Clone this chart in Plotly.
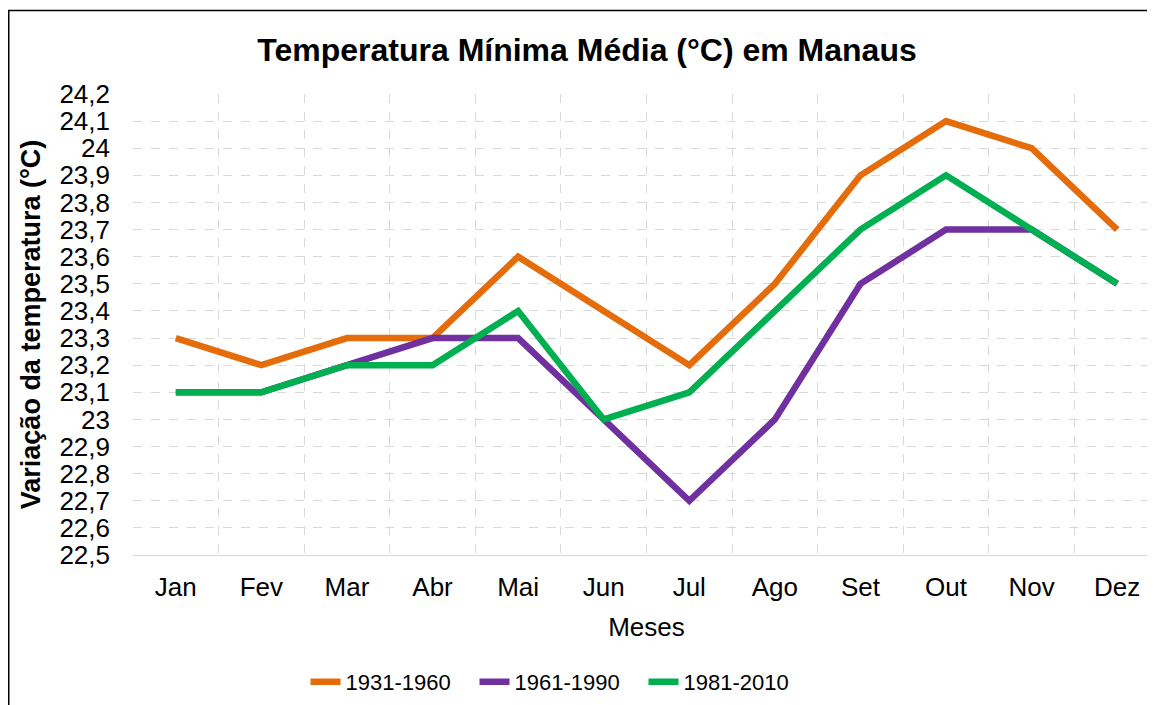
import plotly.graph_objects as go

months = ["Jan", "Fev", "Mar", "Abr", "Mai", "Jun", "Jul", "Ago", "Set", "Out", "Nov", "Dez"]
s1931_1960 = [23.3, 23.2, 23.3, 23.3, 23.6, 23.4, 23.2, 23.5, 23.9, 24.1, 24.0, 23.7]
s1961_1990 = [23.1, 23.1, 23.2, 23.3, 23.3, 23.0, 22.7, 23.0, 23.5, 23.7, 23.7, 23.5]
s1981_2010 = [23.1, 23.1, 23.2, 23.2, 23.4, 23.0, 23.1, 23.4, 23.7, 23.9, 23.7, 23.5]
series_names = ["1931-1960", "1961-1990", "1981-2010"]
colors = ["#E46C0A", "#7030A0", "#00B050"]
ytick_vals = [22.5, 22.6, 22.7, 22.8, 22.9, 23.0, 23.1, 23.2, 23.3, 23.4, 23.5,
              23.6, 23.7, 23.8, 23.9, 24.0, 24.1, 24.2]
ytick_text = ["22,5", "22,6", "22,7", "22,8", "22,9", "23", "23,1", "23,2", "23,3", "23,4",
              "23,5", "23,6", "23,7", "23,8", "23,9", "24", "24,1", "24,2"]

fig = go.Figure()
for name, vals, c in zip(series_names, [s1931_1960, s1961_1990, s1981_2010], colors):
    fig.add_trace(go.Scatter(x=months, y=vals, mode="lines", name=name,
                             line=dict(color=c, width=6.5)))

font = "Liberation Sans, Arial, sans-serif"
W, H = 1155, 705
L, R, T, B = 125, 3, 86, 158
pw, ph = W - L - R, H - T - B
fig.update_layout(
    width=W, height=H,
    margin=dict(l=L, r=R, t=T, b=B),
    paper_bgcolor="white", plot_bgcolor="white",
    font=dict(family=font, size=26, color="black"),
    title=dict(text="<b>Temperatura Mínima Média (°C) em Manaus</b>",
               x=(587 - 8) / W, xref="container", xanchor="center",
               y=1 - 42 / H, yref="container", yanchor="middle",
               font=dict(size=32, family=font, color="black")),
    showlegend=True,
    legend=dict(orientation="h", x=(559 - 8) / W, xref="container", xanchor="center",
                y=1 - 674 / H, yref="container", yanchor="middle",
                font=dict(size=22, family=font),
                entrywidth=124, itemwidth=30, tracegroupgap=0),
    xaxis=dict(type="category", range=[-0.5, 11.5], tickson="boundaries",
               showgrid=True, gridcolor="#D9D9D9", griddash="dash", gridwidth=1,
               showline=True, linecolor="#D9D9D9", linewidth=1,
               ticks="", ticklabelstandoff=9,
               title=dict(text="Meses", standoff=16, font=dict(size=26)),
               zeroline=False),
    yaxis=dict(range=[22.5, 24.2], tickvals=ytick_vals, ticktext=ytick_text,
               showgrid=True, gridcolor="#D9D9D9", griddash="dash", gridwidth=1,
               ticks="", ticklabelstandoff=22, zeroline=False, showline=False,
               title=dict(text="<b>Variação da temperatura (°C)</b>", standoff=10,
                          font=dict(size=27))),
    shapes=[dict(type="rect", xref="paper", yref="paper",
                 x0=(0.75 - L) / pw, x1=1.05,
                 y0=-0.4, y1=(H - B - 2.5) / ph,
                 line=dict(color="black", width=1.5), fillcolor="rgba(0,0,0,0)",
                 layer="below")],
)

fig.write_html("out.html")
